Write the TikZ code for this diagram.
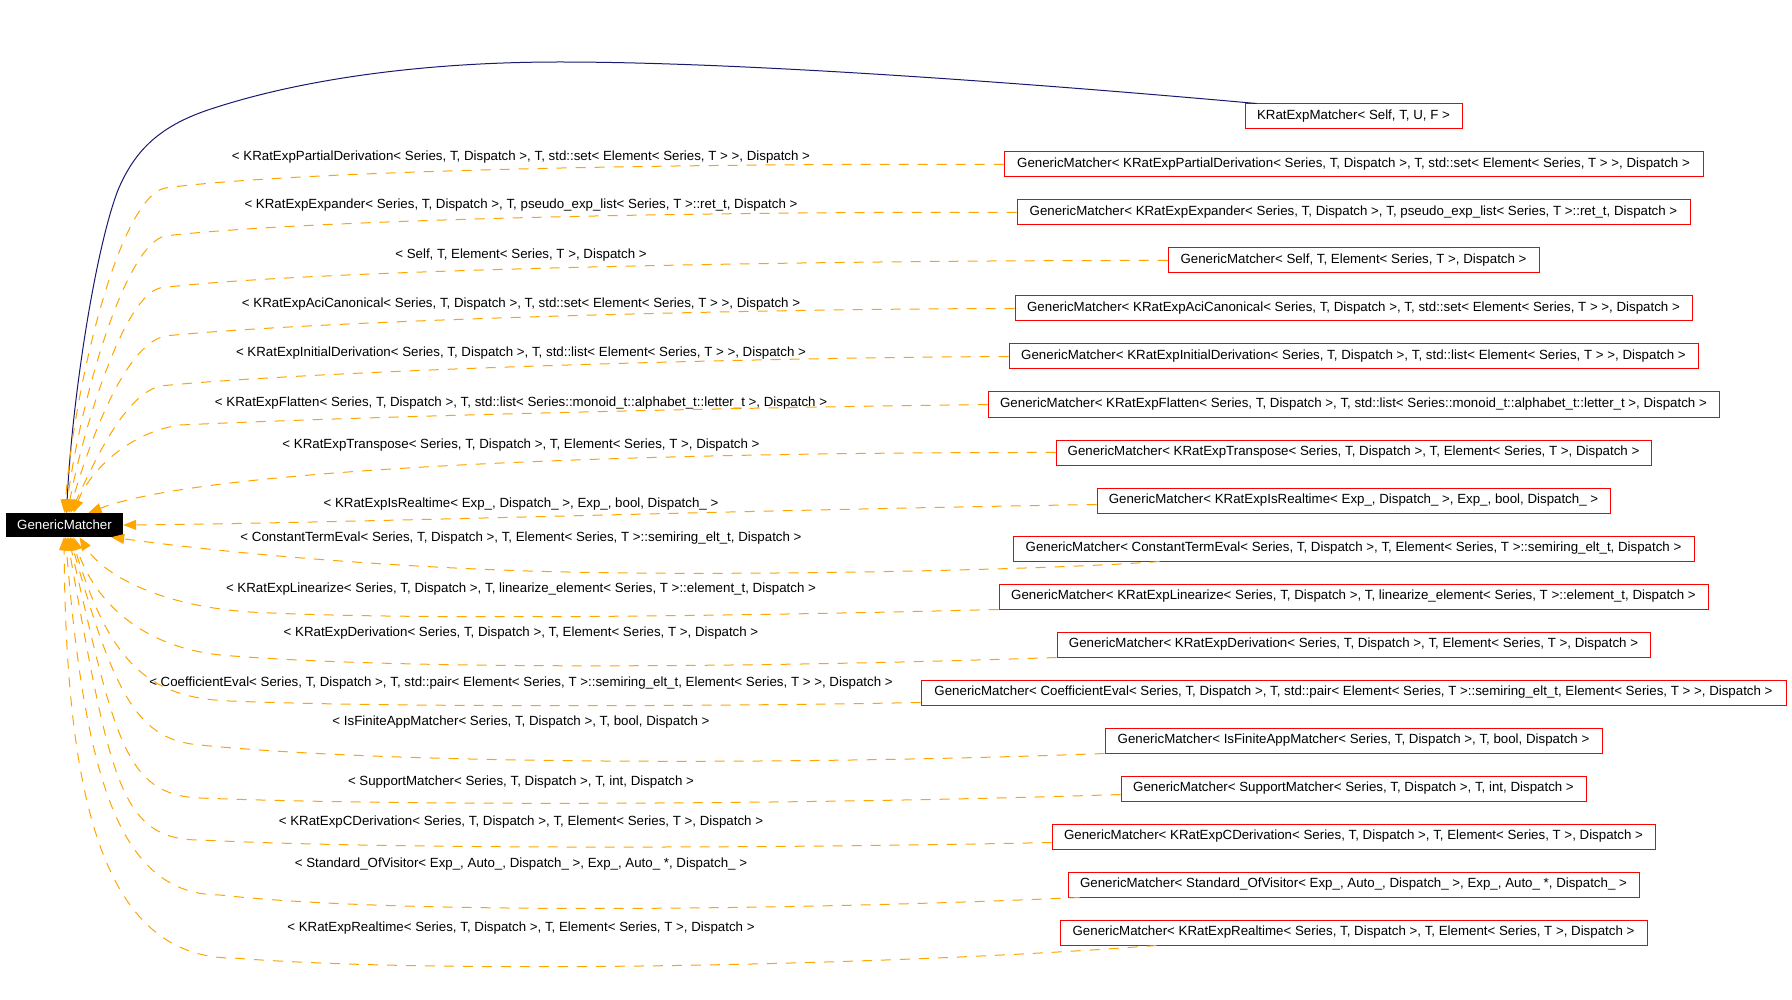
\documentclass[tikz,border=0pt]{standalone}
\usepackage{fontspec}
\setmainfont{Liberation Sans}
\usetikzlibrary{arrows.meta}
\definecolor{gvorange}{HTML}{FFA500}
\definecolor{gvnavy}{HTML}{191970}
\definecolor{gvred}{HTML}{FF0000}
\newcommand\gmtext{\fontsize{13.3pt}{16pt}\selectfont}
\tikzset{
  cls/.style={draw=gvred, fill=white, line width=1pt, minimum height=25pt, inner sep=0pt, font=\gmtext},
  basecls/.style={fill=black, text=white, minimum width=117pt, minimum height=24pt, inner sep=0pt, font=\gmtext},
  elabel/.style={inner sep=0pt, font=\gmtext},
  tmpl/.style={draw=gvorange, line width=1pt, dash pattern=on 10pt off 9pt, -{Triangle[length=13pt,width=10pt,fill=gvorange]}},
  inh/.style={draw=gvnavy, line width=1pt, -{Triangle[length=13pt,width=10pt,fill=gvnavy]}}
}
\begin{document}
\begin{tikzpicture}[x=1pt,y=-1pt]
\fill[white] (0,0) rectangle (1792,1000);
\useasboundingbox (0,0) rectangle (1792,1000);

% base class
\node[basecls] (gm) at (64.5,525) {GenericMatcher};

% derived classes
\node[cls, minimum width=217pt] (km) at (1353.5,116.5) {KRatExpMatcher< Self, T, U, F >};
\node[cls, minimum width=699pt] (r0) at (1353.5,164.5) {GenericMatcher< KRatExpPartialDerivation< Series, T, Dispatch >, T, std::set< Element< Series, T > >, Dispatch >};
\node[cls, minimum width=673pt] (r1) at (1353.5,212.5) {GenericMatcher< KRatExpExpander< Series, T, Dispatch >, T, pseudo\_exp\_list< Series, T >::ret\_t, Dispatch >};
\node[cls, minimum width=371pt] (r2) at (1353.5,260.5) {GenericMatcher< Self, T, Element< Series, T >, Dispatch >};
\node[cls, minimum width=677pt] (r3) at (1353.5,308.5) {GenericMatcher< KRatExpAciCanonical< Series, T, Dispatch >, T, std::set< Element< Series, T > >, Dispatch >};
\node[cls, minimum width=689pt] (r4) at (1353.5,356.5) {GenericMatcher< KRatExpInitialDerivation< Series, T, Dispatch >, T, std::list< Element< Series, T > >, Dispatch >};
\node[cls, minimum width=731pt] (r5) at (1353.5,404.5) {GenericMatcher< KRatExpFlatten< Series, T, Dispatch >, T, std::list< Series::monoid\_t::alphabet\_t::letter\_t >, Dispatch >};
\node[cls, minimum width=595pt] (r6) at (1353.5,452.5) {GenericMatcher< KRatExpTranspose< Series, T, Dispatch >, T, Element< Series, T >, Dispatch >};
\node[cls, minimum width=513pt] (r7) at (1353.5,500.5) {GenericMatcher< KRatExpIsRealtime< Exp\_, Dispatch\_ >, Exp\_, bool, Dispatch\_ >};
\node[cls, minimum width=681pt] (r8) at (1353.5,548.5) {GenericMatcher< ConstantTermEval< Series, T, Dispatch >, T, Element< Series, T >::semiring\_elt\_t, Dispatch >};
\node[cls, minimum width=709pt] (r9) at (1353.5,596.5) {GenericMatcher< KRatExpLinearize< Series, T, Dispatch >, T, linearize\_element< Series, T >::element\_t, Dispatch >};
\node[cls, minimum width=593pt] (r10) at (1353.5,644.5) {GenericMatcher< KRatExpDerivation< Series, T, Dispatch >, T, Element< Series, T >, Dispatch >};
\node[cls, minimum width=865pt] (r11) at (1353.5,692.5) {GenericMatcher< CoefficientEval< Series, T, Dispatch >, T, std::pair< Element< Series, T >::semiring\_elt\_t, Element< Series, T > >, Dispatch >};
\node[cls, minimum width=497pt] (r12) at (1353.5,740.5) {GenericMatcher< IsFiniteAppMatcher< Series, T, Dispatch >, T, bool, Dispatch >};
\node[cls, minimum width=465pt] (r13) at (1353.5,788.5) {GenericMatcher< SupportMatcher< Series, T, Dispatch >, T, int, Dispatch >};
\node[cls, minimum width=603pt] (r14) at (1353.5,836.5) {GenericMatcher< KRatExpCDerivation< Series, T, Dispatch >, T, Element< Series, T >, Dispatch >};
\node[cls, minimum width=571pt] (r15) at (1353.5,884.5) {GenericMatcher< Standard\_OfVisitor< Exp\_, Auto\_, Dispatch\_ >, Exp\_, Auto\_ *, Dispatch\_ >};
\node[cls, minimum width=587pt] (r16) at (1353.5,932.5) {GenericMatcher< KRatExpRealtime< Series, T, Dispatch >, T, Element< Series, T >, Dispatch >};

% edge labels
\node[elabel] (l0) at (521,157) {< KRatExpPartialDerivation< Series, T, Dispatch >, T, std::set< Element< Series, T > >, Dispatch >};
\node[elabel] (l1) at (521,205) {< KRatExpExpander< Series, T, Dispatch >, T, pseudo\_exp\_list< Series, T >::ret\_t, Dispatch >};
\node[elabel] (l2) at (521,255) {< Self, T, Element< Series, T >, Dispatch >};
\node[elabel] (l3) at (521,304) {< KRatExpAciCanonical< Series, T, Dispatch >, T, std::set< Element< Series, T > >, Dispatch >};
\node[elabel] (l4) at (521,353) {< KRatExpInitialDerivation< Series, T, Dispatch >, T, std::list< Element< Series, T > >, Dispatch >};
\node[elabel] (l5) at (521,403) {< KRatExpFlatten< Series, T, Dispatch >, T, std::list< Series::monoid\_t::alphabet\_t::letter\_t >, Dispatch >};
\node[elabel] (l6) at (521,445) {< KRatExpTranspose< Series, T, Dispatch >, T, Element< Series, T >, Dispatch >};
\node[elabel] (l7) at (521,504) {< KRatExpIsRealtime< Exp\_, Dispatch\_ >, Exp\_, bool, Dispatch\_ >};
\node[elabel] (l8) at (521,538) {< ConstantTermEval< Series, T, Dispatch >, T, Element< Series, T >::semiring\_elt\_t, Dispatch >};
\node[elabel] (l9) at (521,589) {< KRatExpLinearize< Series, T, Dispatch >, T, linearize\_element< Series, T >::element\_t, Dispatch >};
\node[elabel] (l10) at (521,633) {< KRatExpDerivation< Series, T, Dispatch >, T, Element< Series, T >, Dispatch >};
\node[elabel] (l11) at (521,683) {< CoefficientEval< Series, T, Dispatch >, T, std::pair< Element< Series, T >::semiring\_elt\_t, Element< Series, T > >, Dispatch >};
\node[elabel] (l12) at (521,722) {< IsFiniteAppMatcher< Series, T, Dispatch >, T, bool, Dispatch >};
\node[elabel] (l13) at (521,782) {< SupportMatcher< Series, T, Dispatch >, T, int, Dispatch >};
\node[elabel] (l14) at (521,822) {< KRatExpCDerivation< Series, T, Dispatch >, T, Element< Series, T >, Dispatch >};
\node[elabel] (l15) at (521,864) {< Standard\_OfVisitor< Exp\_, Auto\_, Dispatch\_ >, Exp\_, Auto\_ *, Dispatch\_ >};
\node[elabel] (l16) at (521,928) {< KRatExpRealtime< Series, T, Dispatch >, T, Element< Series, T >, Dispatch >};

% inheritance edge
\draw[inh] ([xshift=12pt]km.north west) .. controls (1050,85) and (750,62) .. (560,62)
  .. controls (420,62) and (300,80) .. (214,108)
  .. controls (160,125) and (135,150) .. (118,190)
  .. controls (95,250) and (72,400) .. ([xshift=2pt]gm.north);

% template instance edges
\draw[tmpl] (r0.west) .. controls (700,163) and (300,170) .. (165,188) .. controls (120,198) and (75,380) .. (gm.north);
\draw[tmpl] (r1.west) .. controls (700,211) and (300,220) .. (165,236) .. controls (125,245) and (80,400) .. ([xshift=1.5pt]gm.north);
\draw[tmpl] (r2.west) .. controls (800,260) and (300,270) .. (160,288) .. controls (125,296) and (85,420) .. ([xshift=3pt]gm.north);
\draw[tmpl] (r3.west) .. controls (700,309) and (300,322) .. (165,336) .. controls (125,345) and (90,440) .. ([xshift=4.5pt]gm.north);
\draw[tmpl] (r4.west) .. controls (700,358) and (300,372) .. (160,386) .. controls (125,395) and (95,460) .. ([xshift=6pt]gm.north);
\draw[tmpl] (r5.west) .. controls (700,408) and (350,417) .. (180,425) .. controls (130,432) and (90,470) .. ([xshift=9pt]gm.north);
\draw[tmpl] (r6.west) .. controls (600,452) and (200,470) .. ([xshift=24pt]gm.north);
\draw[tmpl] ([yshift=-4pt]r7.west) .. controls (700,511) and (350,523) .. (gm.east);
\draw[tmpl] ([xshift=147pt]r8.south west) .. controls (1050,570) and (700,578) .. (500,570) .. controls (300,562) and (170,545) .. ([xshift=-12pt]gm.south east);
\draw[tmpl] (r9.south west) .. controls (700,617) and (400,620) .. (250,612) .. controls (150,605) and (100,570) .. ([xshift=15pt]gm.south);
\draw[tmpl] (r10.south west) .. controls (750,668) and (400,670) .. (220,655) .. controls (130,645) and (90,590) .. ([xshift=9pt]gm.south);
\draw[tmpl] ([yshift=3pt]r11.south west) .. controls (750,706) and (400,708) .. (230,701) .. controls (150,698) and (110,665) .. ([xshift=7pt]gm.south);
\draw[tmpl] (r12.south west) .. controls (800,765) and (400,765) .. (200,745) .. controls (140,740) and (115,700) .. ([xshift=5.5pt]gm.south);
\draw[tmpl] ([yshift=-6pt]r13.west) .. controls (800,805) and (400,806) .. (200,798) .. controls (125,795) and (115,740) .. ([xshift=4pt]gm.south);
\draw[tmpl] ([yshift=-6pt]r14.west) .. controls (800,848) and (400,850) .. (200,840) .. controls (120,840) and (110,780) .. ([xshift=2.5pt]gm.south);
\draw[tmpl] ([xshift=12pt]r15.south west) .. controls (800,910) and (400,915) .. (220,895) .. controls (120,895) and (85,780) .. ([xshift=1pt]gm.south);
\draw[tmpl] ([xshift=97pt]r16.south west) .. controls (900,965) and (450,975) .. (233,958) .. controls (100,958) and (66,790) .. ([xshift=-0.5pt]gm.south);
\end{tikzpicture}
\end{document}
